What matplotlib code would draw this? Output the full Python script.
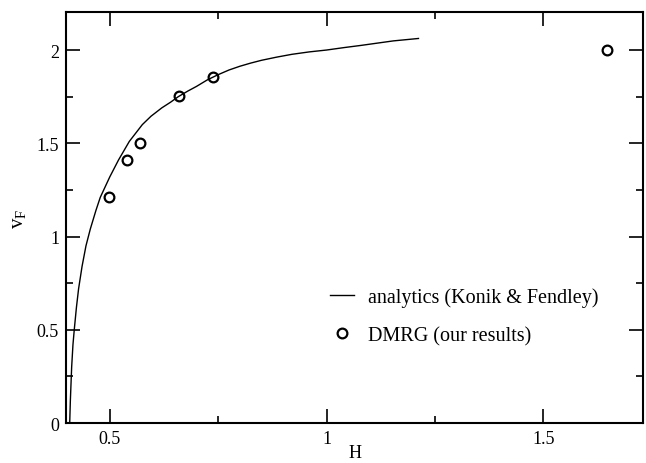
import matplotlib
matplotlib.use('Agg')
import matplotlib.pyplot as plt
from matplotlib.ticker import MultipleLocator

plt.rcParams['font.family'] = 'Liberation Serif'
plt.rcParams['mathtext.fontset'] = 'custom'
plt.rcParams['mathtext.rm'] = 'Liberation Serif'
plt.rcParams['mathtext.it'] = 'Liberation Serif'

# analytic curve (Konik & Fendley)
h_curve = [0.4075, 0.409, 0.412, 0.415, 0.418, 0.423, 0.428, 0.436, 0.445, 0.455,
           0.468, 0.478, 0.49, 0.5, 0.52, 0.545, 0.575, 0.595, 0.62, 0.64,
           0.658, 0.68, 0.70, 0.725, 0.75, 0.775, 0.80, 0.825, 0.85, 0.885,
           0.92, 0.96, 1.0, 1.04, 1.08, 1.12, 1.154, 1.212]
v_curve = [0.0, 0.12, 0.30, 0.42, 0.50, 0.62, 0.72, 0.84, 0.95, 1.04,
           1.14, 1.21, 1.27, 1.32, 1.41, 1.51, 1.60, 1.645, 1.69, 1.72,
           1.75, 1.78, 1.805, 1.84, 1.868, 1.893, 1.913, 1.930, 1.945, 1.962,
           1.977, 1.99, 2.0, 2.013, 2.025, 2.038, 2.049, 2.062]

# DMRG points
h_dmrg = [0.4985, 0.539, 0.570, 0.660, 0.739, 1.647]
v_dmrg = [1.213, 1.411, 1.50, 1.751, 1.858, 2.0]

fig = plt.figure(figsize=(6.46, 4.64), dpi=100)
ax = fig.add_axes([0.1022, 0.0862, 0.8932, 0.8858])

ax.plot(h_curve, v_curve, color='black', lw=1.0, label='analytics (Konik & Fendley)')
ax.plot(h_dmrg, v_dmrg, 'o', mfc='none', mec='black', mew=1.6, ms=7,
        label='DMRG (our results)')

ax.set_xlim(0.399, 1.73)
ax.set_ylim(0, 2.204)
ax.xaxis.set_minor_locator(MultipleLocator(0.25))
ax.yaxis.set_minor_locator(MultipleLocator(0.25))
ax.set_xticks([0.5, 1.0, 1.5])
ax.set_xticklabels(['0.5', '1', '1.5'])
ax.set_yticks([0, 0.5, 1.0, 1.5, 2.0])
ax.set_yticklabels(['0', '0.5', '1', '1.5', '2'])
ax.tick_params(which='both', direction='in', top=True, right=True, labelsize=13, width=1.2)
ax.tick_params(which='major', length=10, pad=5)
ax.tick_params(which='minor', length=5)
for s in ax.spines.values():
    s.set_linewidth(1.5)

ax.set_xlabel('H', fontsize=13, labelpad=-2)
ax.set_ylabel(r'$\mathrm{v_F}$', fontsize=15, labelpad=6)

ax.legend(loc='upper left', bbox_to_anchor=(0.458, 0.33), frameon=False,
          fontsize=14.5, borderpad=0, borderaxespad=0, handlelength=1.2,
          handletextpad=0.65, labelspacing=0.95)

fig.savefig('out.png', dpi=100)
